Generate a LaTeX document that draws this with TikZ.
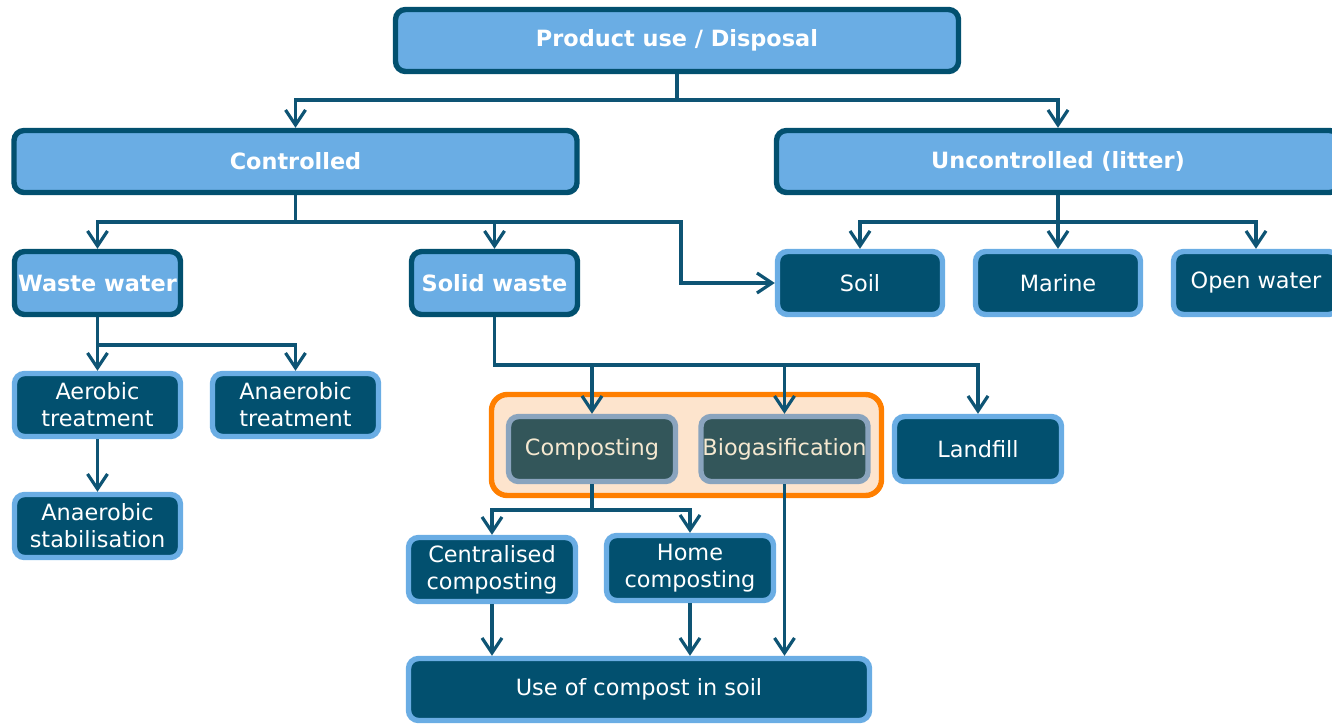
\documentclass[tikz,border=0pt]{standalone}
\usepackage{fontspec}
\setmainfont{DejaVu Sans}
\usetikzlibrary{arrows.meta}
\definecolor{navy}{RGB}{2,80,111}
\definecolor{wire}{RGB}{14,84,116}
\definecolor{sky}{RGB}{106,173,228}
\definecolor{flame}{RGB}{255,127,0}
\definecolor{peach}{RGB}{253,228,205}
\definecolor{slate}{RGB}{51,86,90}
\definecolor{haze}{RGB}{138,164,190}
\definecolor{cream}{RGB}{245,232,208}

\begin{document}
\begin{tikzpicture}[x=0.5pt,y=-0.5pt,
    every node/.style={font=\fontsize{11.2}{13.5}\selectfont,align=center,inner sep=0pt,rounded corners=5pt},
    headbox/.style={fill=sky,draw=navy,line width=2.7pt,text=white,font=\fontsize{11.2}{13.5}\selectfont\bfseries},
    leafbox/.style={fill=navy,draw=sky,line width=2.7pt,text=white},
    procbox/.style={fill=slate,draw=haze,line width=2.7pt,text=cream,minimum width=83.5pt,minimum height=32.5pt},
    flow/.style={draw=wire,line width=1.6pt,-{Straight Barb[length=7.5pt,width=10pt]}}]
  \clip (0,0) rectangle (1332,723);
  % top levels
  \node[headbox,minimum width=281.5pt,minimum height=31pt] (top) at (677,40.5) {Product use / Disposal};
  \node[headbox,minimum width=281.5pt,minimum height=31pt] (ctrl) at (295.5,161.5) {Controlled};
  \node[headbox,minimum width=281.5pt,minimum height=31pt] (unctrl) at (1058,161.5) {Uncontrolled (litter)};
  \node[headbox,minimum width=83pt,minimum height=31.5pt] (ww) at (97.5,283) {Waste water};
  \node[headbox,minimum width=83pt,minimum height=31.5pt] (sw) at (494.5,283) {Solid waste};
  % litter
  \node[leafbox,minimum width=82.5pt,minimum height=31.5pt] (soil) at (860,283) {Soil};
  \node[leafbox,minimum width=82.5pt,minimum height=31.5pt] (marine) at (1058,283) {Marine};
  \node[leafbox,minimum width=82.5pt,minimum height=31.5pt] (openw) at (1256,283) {Open water};
  % waste water
  \node[leafbox,minimum width=83pt,minimum height=31.5pt] (aer) at (97.5,405) {Aerobic\\treatment};
  \node[leafbox,minimum width=83pt,minimum height=31.5pt] (anaer) at (295.5,405) {Anaerobic\\treatment};
  \node[leafbox,minimum width=83pt,minimum height=31.5pt] (stab) at (97.5,526) {Anaerobic\\stabilisation};
  % solid waste
  \node[fill=peach,draw=flame,line width=2.7pt,minimum width=195pt,minimum height=50.5pt,rounded corners=8pt] (grp) at (686.5,445) {};
  \node[procbox] (comp) at (592,449) {Composting};
  \node[procbox] (biog) at (784.5,449) {Biogasification};
  \node[leafbox,minimum width=83.5pt,minimum height=32.5pt] (landf) at (978,449) {Landfill};
  \node[leafbox,minimum width=83.5pt,minimum height=32pt] (central) at (492,569.5) {Centralised\\composting};
  \node[leafbox,minimum width=83.5pt,minimum height=32.5pt] (home) at (690,568) {Home\\composting};
  \node[leafbox,minimum width=230.5pt,minimum height=31pt] (usec) at (639,689.5) {Use of compost in soil};

  \coordinate (t1) at (677,100);
  \draw[flow] (top.south) -- (t1) -| (ctrl.north); \draw[flow] (t1) -| (unctrl.north);
  \coordinate (c1) at (295.5,222);
  \draw[flow] (ctrl.south) -- (c1) -| (ww.north); \draw[flow] (c1) -| (sw.north);
  \draw[flow] (c1) -| (681,283) -- (soil.west);
  \coordinate (u1) at (1058,222);
  \draw[flow] (unctrl.south) -- (u1) -| (soil.north); \draw[flow] (u1) -| (openw.north); \draw[flow] (u1) -- (marine.north);
  \coordinate (w1) at (97.5,345);
  \draw[flow] (ww.south) -- (aer.north); \draw[flow] (w1) -| (anaer.north);
  \draw[flow] (aer.south) -- (stab.north);
  \coordinate (s1) at (494.5,365);
  \draw[flow] (sw.south) -- (s1) -| (landf.north); \draw[flow] (s1) -| (comp.north); \draw[flow] (s1) -| (biog.north);
  \coordinate (k1) at (592,510);
  \draw[flow] (comp.south) -- (k1) -| (central.north); \draw[flow] (k1) -| (home.north);
  \draw[flow] (central.south) -- (central.south |- usec.north);
  \draw[flow] (home.south) -- (home.south |- usec.north);
  \draw[flow] (biog.south) -- (biog.south |- usec.north);
\end{tikzpicture}
\end{document}
